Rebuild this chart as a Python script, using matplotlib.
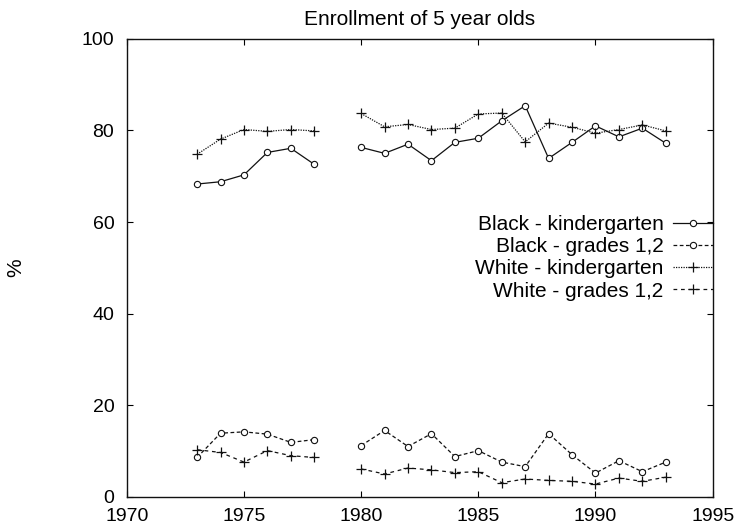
import numpy as np
import matplotlib
matplotlib.use("Agg")
import matplotlib.pyplot as plt

plt.rcParams['font.family'] = ['Liberation Sans', 'DejaVu Sans']

years = [1973, 1974, 1975, 1976, 1977, 1978, 1979, 1980, 1981, 1982, 1983,
         1984, 1985, 1986, 1987, 1988, 1989, 1990, 1991, 1992, 1993]
nan = np.nan
black_kinder = [68.3, 68.8, 70.3, 75.2, 76.1, 72.6, nan, 76.3, 75.0, 77.0, 73.4,
                77.4, 78.3, 82.1, 85.4, 73.9, 77.4, 81.0, 78.6, 80.5, 77.2]
black_grades = [8.6, 13.9, 14.2, 13.7, 11.9, 12.5, nan, 11.2, 14.5, 11.0, 13.8,
                8.8, 10.1, 7.6, 6.6, 13.8, 9.2, 5.2, 7.9, 5.5, 7.6]
white_kinder = [74.8, 78.1, 80.2, 79.8, 80.2, 79.9, nan, 83.7, 80.8, 81.3, 80.2,
                80.5, 83.6, 83.8, 77.5, 81.6, 80.7, 79.4, 80.2, 81.2, 79.9]
white_grades = [10.3, 9.7, 7.6, 10.1, 9.0, 8.6, nan, 6.1, 5.0, 6.3, 5.9,
                5.3, 5.5, 3.1, 3.9, 3.6, 3.4, 2.8, 4.1, 3.4, 4.3]

labels = ["Black - kindergarten", "Black - grades 1,2",
          "White - kindergarten", "White - grades 1,2"]
title = "Enrollment of 5 year olds"
xticks = [1970, 1975, 1980, 1985, 1990, 1995]
yticks = [0, 20, 40, 60, 80, 100]

fig = plt.figure(figsize=(7.37, 5.32), dpi=100)
ax = fig.add_axes([0.172, 0.066, 0.795, 0.861])

col = '#111111'
ax.plot(years, black_kinder, color=col, lw=0.9, ls='-', marker='o', ms=4.5,
        mfc='white', mec=col, mew=0.8, label=labels[0])
ax.plot(years, black_grades, color=col, lw=0.9, ls=(0, (3, 2)), marker='o', ms=4.5,
        mfc='white', mec=col, mew=0.8, label=labels[1])
ax.plot(years, white_kinder, color=col, lw=0.9, ls=(0, (1, 1)), marker='+', ms=7,
        mec=col, mew=0.9, label=labels[2])
ax.plot(years, white_grades, color=col, lw=0.9, ls=(0, (3, 3)), marker='+', ms=7,
        mec=col, mew=0.9, label=labels[3])

ax.set_xlim(1970, 1995)
ax.set_ylim(0, 100)
ax.set_xticks(xticks)
ax.set_yticks(yticks)
ax.tick_params(direction='in', top=True, right=True, length=4, width=0.8,
               labelsize=14)
ax.tick_params(axis='y', pad=9)
ax.tick_params(axis='x', pad=8)
for s in ax.spines.values():
    s.set_linewidth(1.0)
    s.set_color(col)

ax.set_title(title, fontsize=15, pad=10)
ax.set_ylabel('%', fontsize=15)
ax.yaxis.set_label_coords(-0.174, 0.5)

ax.legend(loc='upper right', bbox_to_anchor=(1.0, 0.615), frameon=False,
          markerfirst=False, fontsize=15, handlelength=1.9, handletextpad=0.45,
          labelspacing=0.15, borderpad=0, borderaxespad=0)

fig.savefig('out.png', dpi=100)
